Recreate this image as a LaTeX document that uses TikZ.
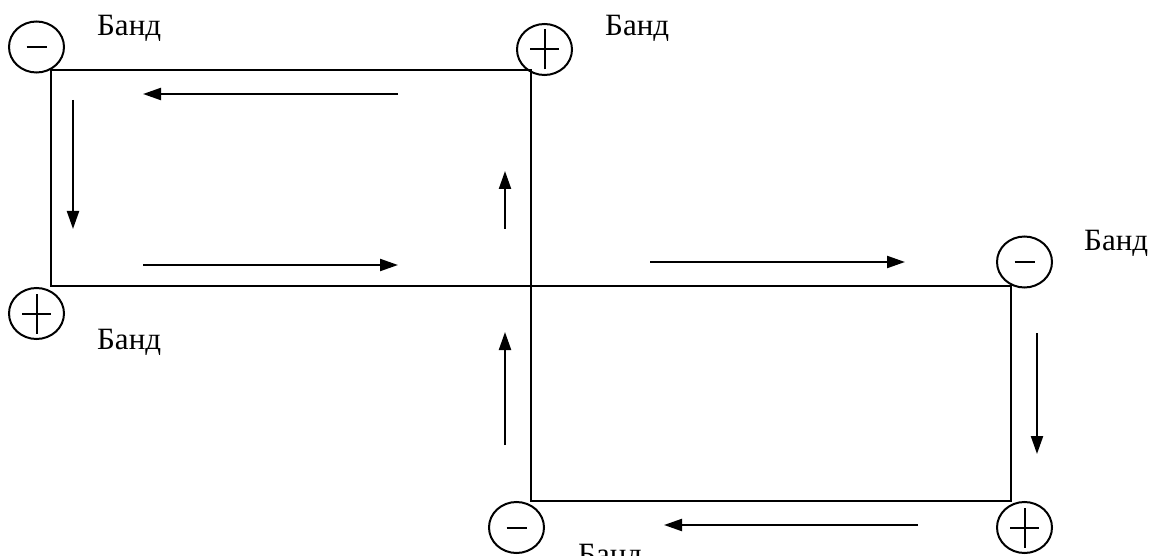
\documentclass[tikz,border=0pt]{standalone}
\usepackage{fontspec}
\setmainfont{Liberation Serif}
\usetikzlibrary{arrows.meta,shapes.geometric}
\tikzset{
  pole/.style={draw, line width=2pt, ellipse, minimum width=55pt, minimum height=51pt, inner sep=0pt},
  frame/.style={line width=2.2pt},
  flow/.style={line width=2.2pt, -{Triangle[length=18pt,width=12pt]}},
  lbl/.style={font=\fontsize{31}{33}\selectfont, anchor=base west, inner sep=0pt},
  sign/.style={line width=2pt}
}
\begin{document}
\begin{tikzpicture}[x=1pt,y=-1pt]
\useasboundingbox (0,0) rectangle (1154,556);
% rectangle corners
\coordinate (a1) at (51,70);
\coordinate (a2) at (531,70);
\coordinate (a3) at (531,286);
\coordinate (a4) at (51,286);
\coordinate (b1) at (531,286);
\coordinate (b2) at (1011,286);
\coordinate (b3) at (1011,501);
\coordinate (b4) at (531,501);
\draw[frame] (a1) -- (a2) -- (a3) -- (a4) -- cycle;
\draw[frame] (b1) -- (b2) -- (b3) -- (b4) -- cycle;
% poles
\node[pole] (p1) at (36.5,47) {};
\node[pole] (p2) at (544.5,49.5) {};
\node[pole] (p3) at (36.5,313.5) {};
\node[pole] (p4) at (1024.5,262) {};
\node[pole] (p5) at (516.5,527.5) {};
\node[pole] (p6) at (1024.5,527.5) {};
% signs
\draw[sign] ([xshift=-10pt]p1.center) -- ([xshift=10pt]p1.center);
\draw[sign] ([xshift=-10pt]p4.center) -- ([xshift=10pt]p4.center);
\draw[sign] ([xshift=-10pt]p5.center) -- ([xshift=10pt]p5.center);
\foreach \p in {p2,p3,p6}{
  \draw[sign] ([xshift=-14.5pt]\p.center) -- ([xshift=14.5pt]\p.center);
  \draw[sign] ([yshift=-20pt]\p.center) -- ([yshift=20pt]\p.center);
}
% labels
\node[lbl] (l1) at (97,36) {Банд};
\node[lbl] (l2) at (605,36) {Банд};
\node[lbl] (l3) at (1084,251) {Банд};
\node[lbl] (l4) at (97,349) {Банд};
\node[lbl] (l5) at (578,564) {Банд};
% flow arrows
\coordinate (f1s) at (398,94);  \coordinate (f1e) at (143,94);
\coordinate (f2s) at (73,100);  \coordinate (f2e) at (73,229);
\coordinate (f3s) at (143,265); \coordinate (f3e) at (398,265);
\coordinate (f4s) at (505,229); \coordinate (f4e) at (505,171);
\coordinate (f5s) at (650,262); \coordinate (f5e) at (905,262);
\coordinate (f6s) at (1037,333); \coordinate (f6e) at (1037,454);
\coordinate (f7s) at (918,525); \coordinate (f7e) at (664,525);
\coordinate (f8s) at (505,445); \coordinate (f8e) at (505,332);
\foreach \i in {1,...,8}{\draw[flow] (f\i s) -- (f\i e);}
\end{tikzpicture}
\end{document}
